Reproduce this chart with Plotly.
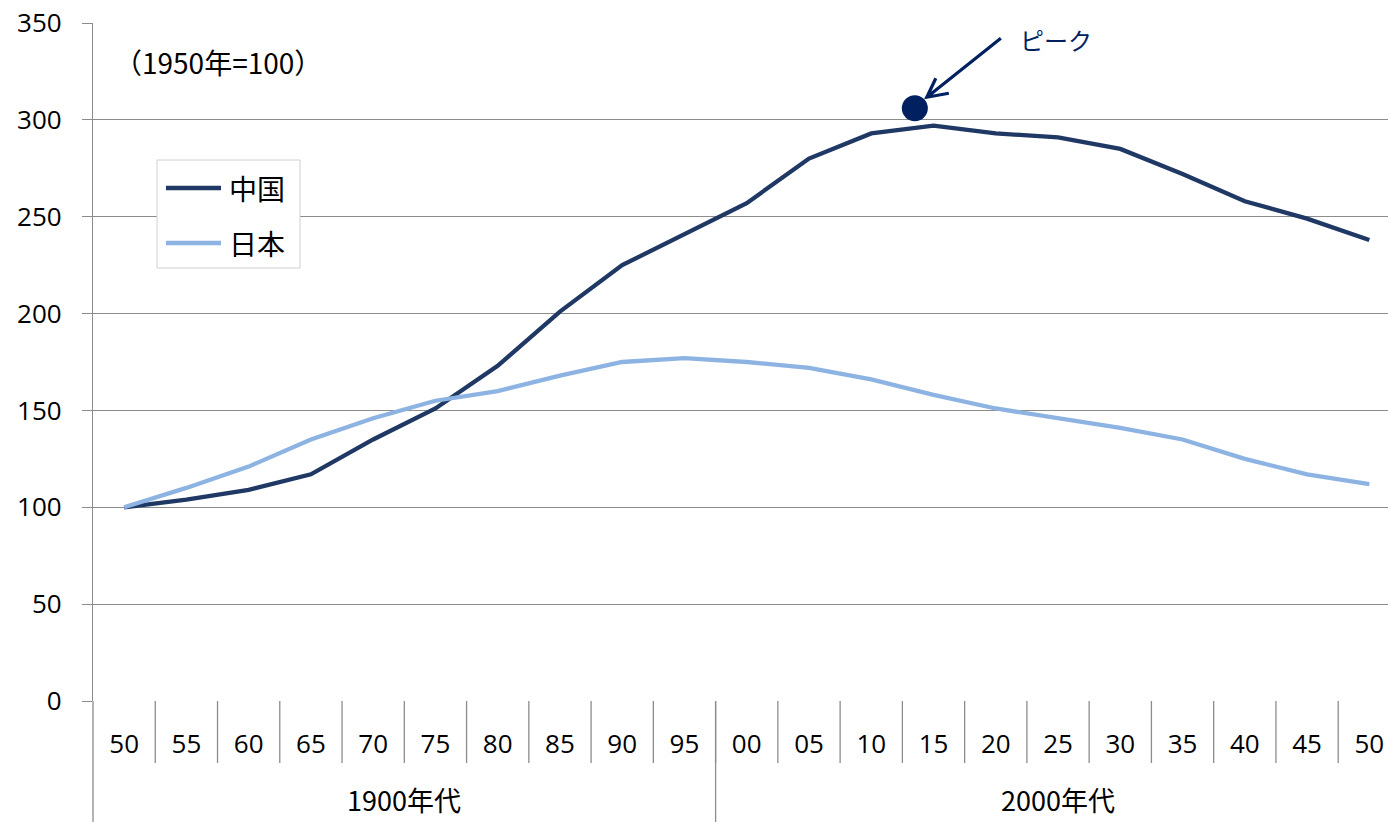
import plotly.graph_objects as go

# Index of population, 1950 = 100
years = ["50", "55", "60", "65", "70", "75", "80", "85", "90", "95",
         "00", "05", "10", "15", "20", "25", "30", "35", "40", "45", "50"]
china = [100, 104, 109, 117, 135, 151, 173, 201, 225, 241,
         257, 280, 293, 297, 293, 291, 285, 272, 258, 249, 238]
japan = [100, 110, 121, 135, 146, 155, 160, 168, 175, 177,
         175, 172, 166, 158, 151, 146, 141, 135, 125, 117, 112]
series_names = ["中国", "日本"]
series_colors = ["#1f3864", "#8db3e2"]
groups = ["1900年代", "2000年代"]
group_sizes = [10, 11]
peak_x = 12.7
peak_mark = 306

CJK = "Noto Sans CJK JP"
GRID = "#8c8c8c"
NAVY = "#002060"

# plot area geometry (pixels) used for paper-coordinate helpers
W, H = 1388, 822
L, R, T, B = 93, 0, 23, 121
PW, PH = W - L - R, H - T - B


def px(x):
    return (x - L) / PW


def py(y):
    return (H - B - y) / PH


xs = list(range(len(years)))

fig = go.Figure()
for name, vals, col in zip(series_names, [china, japan], series_colors):
    fig.add_trace(go.Scatter(x=xs, y=vals, mode="lines", name=name,
                             line=dict(color=col, width=4.3),
                             showlegend=False))
fig.add_trace(go.Scatter(x=[peak_x], y=[peak_mark], mode="markers",
                         marker=dict(color=NAVY, size=26), showlegend=False,
                         hoverinfo="skip"))

shapes = []
# separators between category labels
for i in range(len(years) - 1):
    shapes.append(dict(type="line", xref="x", yref="paper",
                       x0=i + 0.5, x1=i + 0.5, y0=0, y1=py(763),
                       line=dict(color=GRID, width=1.3)))
# separator between the two century groups, plus left edge extension
shapes.append(dict(type="line", xref="x", yref="paper",
                   x0=group_sizes[0] - 0.5, x1=group_sizes[0] - 0.5,
                   y0=0, y1=py(H), line=dict(color=GRID, width=1.3)))
shapes.append(dict(type="line", xref="paper", yref="paper",
                   x0=0, x1=0, y0=0, y1=py(H),
                   line=dict(color=GRID, width=1.3)))
# open arrow pointing to the peak marker
shapes.append(dict(type="path", xref="x", yref="y",
                   xsizemode="pixel", ysizemode="pixel",
                   xanchor=peak_x, yanchor=peak_mark,
                   path="M 86 70 L 12 11 M 21 30 L 12 11 L 34 15",
                   line=dict(color=NAVY, width=3.2)))

# legend box
shapes.append(dict(type="rect", xref="paper", yref="paper",
                   x0=px(157), x1=px(300), y0=py(268), y1=py(160),
                   line=dict(color="#d0d0d0", width=1), fillcolor="white",
                   layer="above"))
annotations = []
for k, (name, col) in enumerate(zip(series_names, series_colors)):
    yy = 188 + 55 * k
    shapes.append(dict(type="line", xref="paper", yref="paper",
                       x0=px(166), x1=px(221), y0=py(yy), y1=py(yy),
                       line=dict(color=col, width=4.3), layer="above"))
    annotations.append(dict(text=name, xref="paper", yref="paper",
                            x=px(227), y=py(yy), xanchor="left",
                            yanchor="middle", showarrow=False,
                            font=dict(family=CJK, size=28, color="#000000")))

annotations += [
    dict(text="（1950年=100）", xref="paper", yref="paper",
         x=px(112), y=py(62), xanchor="left",
         yanchor="middle", showarrow=False,
         font=dict(family=CJK, size=28, color="#000000")),
    dict(text="ピーク", xref="paper", yref="paper", x=px(1018),
         y=py(40), xanchor="left", yanchor="middle",
         showarrow=False, font=dict(family=CJK, size=24, color=NAVY)),
]
start = 0
for g, n in zip(groups, group_sizes):
    annotations.append(dict(text=g, xref="x", yref="paper",
                            x=start + (n - 1) / 2, y=py(800),
                            xanchor="center", yanchor="middle",
                            showarrow=False,
                            font=dict(family=CJK, size=27, color="#000000")))
    start += n

fig.update_layout(
    width=W, height=H,
    margin=dict(l=L, r=R, t=T, b=B),
    paper_bgcolor="white", plot_bgcolor="white",
    showlegend=False,
    xaxis=dict(range=[-0.5, 20.3], tickvals=xs, ticktext=years,
               showgrid=False, zeroline=False, ticks="",
               showline=False, ticklabelstandoff=25,
               tickfont=dict(family="Open Sans", size=26, color="#000000")),
    yaxis=dict(range=[0, 350], dtick=50, showgrid=True, gridcolor=GRID,
               gridwidth=1.3, zeroline=False, showline=True,
               linecolor=GRID, linewidth=1.3, ticks="outside", ticklen=10,
               tickcolor=GRID, tickwidth=1.3, ticklabelstandoff=15,
               tickfont=dict(family="Open Sans", size=26,
                             color="#000000")),
    shapes=shapes, annotations=annotations,
)

fig.write_html("out.html")
